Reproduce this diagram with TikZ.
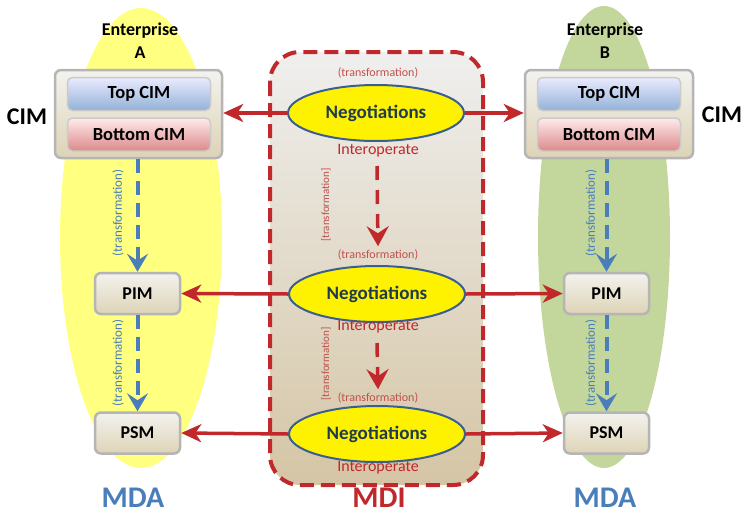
\documentclass[tikz,border=0pt]{standalone}
\usepackage{fontspec}
\setmainfont{Carlito}
\usetikzlibrary{shapes.geometric,arrows.meta}

\definecolor{mdayellow}{HTML}{FFFF80}
\definecolor{mdagreen}{HTML}{C3D69B}
\definecolor{mdablue}{HTML}{4A7EBB}
\definecolor{mdired}{HTML}{C0282B}
\definecolor{xformred}{HTML}{C0504D}
\definecolor{mditop}{HTML}{EFEFEE}
\definecolor{mdibot}{HTML}{D5C5A5}
\definecolor{boxgray}{HTML}{B5B5B5}
\definecolor{boxtop}{HTML}{F3F2EE}
\definecolor{boxbot}{HTML}{DDD3B6}
\definecolor{negoblue}{HTML}{3A5F8E}
\definecolor{negotext}{HTML}{1F3B4C}

\tikzset{
  modelbox/.style={draw=boxgray, line width=2.5pt, rounded corners=6pt,
    top color=boxtop, bottom color=boxbot,
    font=\fontsize{18}{20}\selectfont\bfseries,
    minimum width=85pt, minimum height=41pt},
  cimpart/.style={draw=boxgray!70, line width=1.5pt, rounded corners=5pt,
    font=\fontsize{18.5}{20}\selectfont\bfseries,
    minimum width=143pt, minimum height=33pt},
  nego/.style={ellipse, draw=negoblue, line width=2pt, fill=yellow,
    minimum width=176pt, minimum height=56pt, text=negotext,
    font=\fontsize{19}{20}\selectfont\bfseries},
  xform/.style={text=xformred, font=\fontsize{12}{13}\selectfont},
  interop/.style={text=mdired, font=\fontsize{16}{17}\selectfont},
  bigtitle/.style={anchor=base, inner sep=0pt, font=\fontsize{30}{34}\selectfont\bfseries},
  redarrow/.style={draw=mdired, line width=3.5pt,
    -{Stealth[length=20pt,width=18pt,inset=6pt]}},
  reddash/.style={draw=mdired, line width=3.5pt, dash pattern=on 14pt off 10pt,
    -{Stealth[length=20pt,width=22pt,inset=7pt]}},
  bluedash/.style={draw=mdablue, line width=4pt, dash pattern=on 14pt off 8pt,
    -{Stealth[length=18pt,width=21pt,inset=7pt]}}
}

\begin{document}
\begin{tikzpicture}[x=1pt,y=-1pt]
  \useasboundingbox (0,0) rectangle (744,514);

  % enterprise areas
  \fill[mdayellow] (141,238) ellipse [x radius=81pt, y radius=230pt];
  \fill[mdagreen] (604,237) ellipse [x radius=66pt, y radius=231pt];

  % MDI area
  \draw[mdired, line width=4pt, dash pattern=on 14pt off 7pt, rounded corners=30pt,
    top color=mditop, bottom color=mdibot] (270,52) rectangle (483,485);

  \node[font=\fontsize{18}{23}\selectfont\bfseries, align=center] (entA) at (140,41) {Enterprise\\A};
  \node[font=\fontsize{18}{23}\selectfont\bfseries, align=center] (entB) at (605,41) {Enterprise\\B};

  % CIM boxes
  \node[modelbox, minimum width=167pt, minimum height=88pt] (cimA) at (138.5,114) {};
  \node[cimpart, top color=blue!8, bottom color=mdablue!60] (topA) at (139,94) {Top CIM};
  \node[cimpart, top color=red!8, bottom color=mdired!55] (botA) at (139,134.5) {Bottom CIM};
  \node[modelbox, minimum width=168pt, minimum height=88pt] (cimB) at (609,114) {};
  \node[cimpart, top color=blue!8, bottom color=mdablue!60] (topB) at (609,94) {Top CIM};
  \node[cimpart, top color=red!8, bottom color=mdired!55] (botB) at (609,134.5) {Bottom CIM};

  \node[font=\fontsize{24}{26}\selectfont\bfseries] (cimlA) at (27,117) {CIM};
  \node[font=\fontsize{24}{26}\selectfont\bfseries] (cimlB) at (722,115) {CIM};

  \node[modelbox] (pimA) at (137.5,293.5) {PIM};
  \node[modelbox] (psmA) at (137.5,433) {PSM};
  \node[modelbox] (pimB) at (606.5,293.5) {PIM};
  \node[modelbox] (psmB) at (606.5,433) {PSM};

  % negotiations
  \node[nego] (negA) at (376,113) {Negotiations};
  \node[nego] (negB) at (377,294) {Negotiations};
  \node[nego] (negC) at (377,434) {Negotiations};
  \node[xform] (xfA) at (378,73) {(transformation)};
  \node[xform] (xfB) at (378,255) {(transformation)};
  \node[xform] (xfC) at (378,398) {(transformation)};
  \node[interop] (ioA) at (378,151) {Interoperate};
  \node[interop] (ioB) at (378,327) {Interoperate};
  \node[interop] (ioC) at (378,468) {Interoperate};

  % transformations
  \draw[bluedash] (cimA.south -| pimA) -- (pimA.north);
  \draw[bluedash] (pimA) ++(0,21) -- (psmA.north);
  \draw[bluedash] (cimB.south -| pimB) -- (pimB.north);
  \draw[bluedash] (pimB) ++(0,21) -- (psmB.north);
  \node[xform, text=mdablue, font=\fontsize{13}{14}\selectfont, rotate=90] (xbA1) at (118,213) {(transformation)};
  \node[xform, text=mdablue, font=\fontsize{13}{14}\selectfont, rotate=90] (xbA2) at (118,363) {(transformation)};
  \node[xform, text=mdablue, font=\fontsize{13}{14}\selectfont, rotate=90] (xbB1) at (591,213) {(transformation)};
  \node[xform, text=mdablue, font=\fontsize{13}{14}\selectfont, rotate=90] (xbB2) at (591,363) {(transformation)};

  \coordinate (dA) at (377,166);
  \coordinate (dB) at (377,343);
  \draw[reddash] (dA) -- (xfB.north);
  \draw[reddash] (dB) -- (xfC.north);
  \node[xform, font=\fontsize{11}{12}\selectfont, rotate=90] (xrA) at (326,205) {[transformation]};
  \node[xform, font=\fontsize{11}{12}\selectfont, rotate=90] (xrB) at (326,364) {[transformation]};

  % interoperation links
  \draw[redarrow] (negA.west) -- (negA.west -| cimA.east);
  \draw[redarrow] (negA.east) -- (negA.east -| cimB.west);
  \draw[redarrow] (negB.west) -- (pimA.east);
  \draw[redarrow] (negB.east) -- (pimB.west);
  \draw[redarrow] (negC.west) -- (psmA.east);
  \draw[redarrow] (negC.east) -- (psmB.west);

  \node[bigtitle, text=mdablue] (mdaA) at (133,507) {MDA};
  \node[bigtitle, text=mdired] (mdi) at (379,507) {MDI};
  \node[bigtitle, text=mdablue] (mdaB) at (605,507) {MDA};
\end{tikzpicture}
\end{document}
